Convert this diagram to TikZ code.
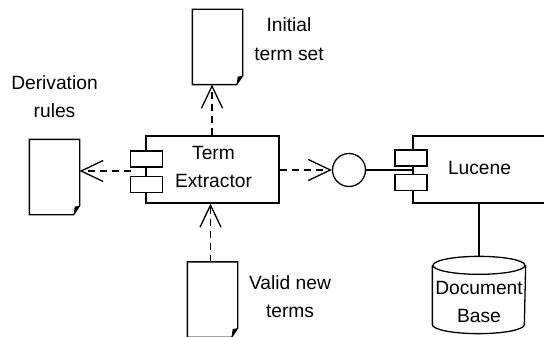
\documentclass[tikz,border=0pt]{standalone}
\usepackage{fontspec}
\setmainfont{Liberation Sans}
\usetikzlibrary{arrows.meta}
\newcommand{\docpage}[1]{
        \draw (#1.north west) -- (#1.north east) -- ([yshift=9pt]#1.south east) -- ([xshift=-6pt]#1.south east) -- (#1.south west) -- cycle;
        \fill ([xshift=-6pt]#1.south east) -- ([yshift=9pt]#1.south east) -- ([xshift=-5pt,yshift=8pt]#1.south east) -- cycle;
}
\begin{document}
\begin{tikzpicture}[x=1pt,y=-1pt,line width=1.3pt]
        \tikzstyle{doc node}=[rectangle,inner sep=0,minimum width=49pt,minimum height=74pt]
        \tikzstyle{comp node}=[rectangle,draw,inner sep=0,minimum height=67pt]
        \tikzstyle{port node}=[rectangle,draw,fill=white,inner sep=0,minimum width=32pt,minimum height=16pt]
        \tikzstyle{text node}=[align=center,inner sep=0,font=\fontsize{19.2}{28}\selectfont]
        \tikzstyle{dep}=[dash pattern=on 7pt off 5pt,-{Straight Barb[length=22pt,width=21pt,line width=1.3pt]}]

        \useasboundingbox (0,0) rectangle (544,337);

        % documents
        \node(initial)[doc node] at (217.5,47){};
        \node(rules)[doc node] at (54.5,177){};
        \node(valid)[doc node] at (212.5,299.5){};
        \docpage{initial}
        \docpage{rules}
        \docpage{valid}
        \node(initialtext)[text node] at (289,39.5){Initial\\[1pt]term set};
        \node(rulestext)[text node] at (54.5,97){Derivation\\rules};
        \node(validtext)[text node] at (290,297){Valid new\\terms};

        % components
        \node(term)[comp node,minimum width=133pt] at (212.5,169.5){};
        \node(termA)[port node] at (146.5,159){};
        \node(termB)[port node] at (146.5,184.5){};
        \node(termtext)[text node] at (213.5,167){Term\\Extractor};
        \node(lucene)[comp node,minimum width=134pt] at (480,169.5){};
        \node(luceneA)[port node] at (411,158){};
        \node(luceneB)[port node] at (411,182.5){};
        \node(lucenetext)[text node] at (479.5,168){Lucene};

        % interface and base
        \node(iface)[circle,draw,inner sep=0,minimum size=33pt] at (349,170){};
        \node(base)[rectangle,inner sep=0,minimum width=92pt,minimum height=76pt] at (479,295){};
        \draw ([yshift=-9pt]base.north) ellipse [x radius=46pt,y radius=9pt];
        \draw ([yshift=-9pt]base.north west) -- ([yshift=9pt]base.south west) arc [start angle=180,end angle=360,x radius=46pt,y radius=9pt] -- ([yshift=-9pt]base.north east);
        \node(basetext)[text node] at (479,302){Document\\Base};

        % connectors
        \coordinate (gap) at (131,171);
        \draw[dep] ([xshift=-5.5pt]term.north-|initial) -- ([xshift=-5.5pt]initial.south);
        \draw[dep] (gap) -- (gap-|rules.east);
        \draw[dep] ([xshift=-2pt]valid.north) -- ([xshift=-2pt]term.south-|valid);
        \draw[dep] (term.east|-iface) -- (iface.west);
        \draw (iface.east) -- (lucene.west|-iface);
        \draw (lucene.south-|base) -- (base.north);
\end{tikzpicture}
\end{document}
